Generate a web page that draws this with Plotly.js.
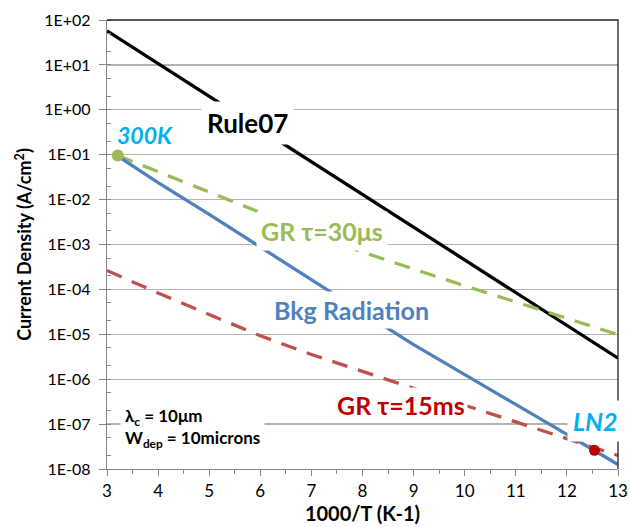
<!DOCTYPE html>
<html><head><meta charset="utf-8">
<script src="https://cdn.plot.ly/plotly-3.0.1.min.js"></script>
<style>html,body{margin:0;padding:0;background:#fff}#c{width:630px;height:527px}</style>
</head><body><div id="c"></div>
<script>
// x values (1000/T)
const xGrid = [3,4,5,6,7,8,9,10,11,12,13];
const rule07 = [57.5,10.7,2.0,0.374,0.0698,0.0130,2.43e-3,4.54e-4,8.47e-5,1.58e-5,2.95e-6];
const xStart = [3.21,4,5,6,7,8,9,10,11,12,13];
const bkgRadiation = [0.0933,0.024,4.68e-3,8.7e-4,1.66e-4,3.09e-5,5.9e-6,1.29e-6,2.75e-7,5.9e-8,1.26e-8];
const gr30us = [0.0955,0.0417,0.01445,5.13e-3,1.82e-3,6.76e-4,2.82e-4,1.2e-4,5.25e-5,2.24e-5,9.8e-6];
const gr15ms = [2.63e-4,8.3e-5,2.75e-5,9.3e-6,3.55e-6,1.48e-6,6.3e-7,2.63e-7,1.12e-7,4.68e-8,2.0e-8];
const pt300K = {x:[3.21], y:[0.0955]};
const ptLN2 = {x:[12.54], y:[2.6e-8]};
const yTickVals = [1e-8,1e-7,1e-6,1e-5,1e-4,1e-3,1e-2,1e-1,1e0,1e1,1e2];
const yTickText = ['1E-08','1E-07','1E-06','1E-05','1E-04','1E-03','1E-02','1E-01','1E+00','1E+01','1E+02'];
const xTickVals = [3,4,5,6,7,8,9,10,11,12,13];

const FONT = 'Lato, "Open Sans", sans-serif';
const traces = [
  {x:xGrid, y:rule07, mode:'lines', line:{color:'#000000', width:3.3}, name:'Rule07'},
  {x:xStart, y:gr30us, mode:'lines', line:{color:'#9BBB59', width:3.3, dash:'16px,11px'}, name:'GR 30us'},
  {x:xStart, y:bkgRadiation, mode:'lines', line:{color:'#4F81BD', width:3.3}, name:'Bkg'},
  {x:xGrid, y:gr15ms, mode:'lines', line:{color:'#C0504D', width:3.3, dash:'16px,11px'}, name:'GR 15ms'},
  {x:pt300K.x, y:pt300K.y, mode:'markers', marker:{color:'#9BBB59', size:12}, name:'300K'},
  {x:ptLN2.x, y:ptLN2.y, mode:'markers', marker:{color:'#C00000', size:11}, name:'LN2'}
];

const L = 106.7, T = 20, W = 511, H = 449.3;
function px(x){return (x-L)/W;}
function py(y){return (T+H-y)/H;}
function ann(x, y, text, size, color, extra){
  return Object.assign({xref:'paper', yref:'paper', x:px(x), y:py(y), xanchor:'center', yanchor:'middle',
    text:text, showarrow:false, font:{size:size, color:color, family:FONT}}, extra||{});
}

const layout = {
  width:630, height:527,
  margin:{l:L, r:630-L-W, t:T, b:527-T-H},
  paper_bgcolor:'#fff', plot_bgcolor:'#fff',
  showlegend:false,
  font:{family:FONT, color:'#000', size:16},
  xaxis:{range:[3,13], tickvals:xTickVals, ticks:'outside', ticklen:6, tickcolor:'#868686', tickwidth:1,
    showline:true, linecolor:'#868686', linewidth:1.3, showgrid:false, zeroline:false,
    minor:{dtick:0.5, ticks:'outside', ticklen:4, tickcolor:'#868686', showgrid:false},
    tickfont:{size:17, family:FONT},
    title:{text:'<b>1000/T (K-1)</b>', font:{size:20, family:FONT}, standoff:6}},
  yaxis:{type:'log', range:[-8,2], tickvals:yTickVals, ticktext:yTickText, ticks:'outside', ticklen:7, tickcolor:'#868686',
    showline:true, linecolor:'#868686', linewidth:1.3, showgrid:true, gridcolor:'#B3B3B3', gridwidth:1.3, zeroline:false,
    minor:{ticks:'inside', ticklen:4, tickcolor:'#868686', showgrid:false},
    tickfont:{size:16, family:FONT}, ticklabelstandoff:5,
    title:{text:'<b>Current Density (A/cm<sup>2</sup>)</b>', font:{size:18, family:FONT}, standoff:7}},
  shapes:[
    {type:'path', xref:'paper', yref:'paper', path:'M 0 1 L 1 1 L 1 0', line:{color:'#222', width:1.3}},
    {type:'rect', xref:'paper', yref:'paper', x0:px(108), x1:px(183), y0:py(160), y1:py(150), fillcolor:'#fff', line:{width:0}, layer:'between'}
  ],
  annotations:[
    ann(247, 123, '<b>Rule07</b>', 26, '#000', {bgcolor:'#fff', borderpad:5}),
    ann(145, 135, '<b><i>300K</i></b>', 23, '#00B0F0'),
    ann(322, 231, '<b>GR τ=30μs</b>', 25, '#9BBB59', {bgcolor:'#fff', borderpad:4}),
    ann(351, 310, '<b>Bkg Radiation</b>', 25, '#4F81BD', {bgcolor:'#fff', borderpad:3}),
    ann(401, 405, '<b>GR τ=15ms</b>', 25, '#C00000', {bgcolor:'#fff', borderpad:2}),
    ann(595, 421, '<b><i>LN2</i></b>', 25, '#00B0F0', {bgcolor:'#fff', borderpad:5}),
    ann(120, 428, '<b>λ<sub>c</sub> = 10μm<br>W<sub>dep</sub> = 10microns</b>', 17, '#000', {xanchor:'left', align:'left', bgcolor:'#fff', borderpad:4})
  ]
};
Plotly.newPlot('c', traces, layout, {displayModeBar:false, staticPlot:true});
</script></body></html>
